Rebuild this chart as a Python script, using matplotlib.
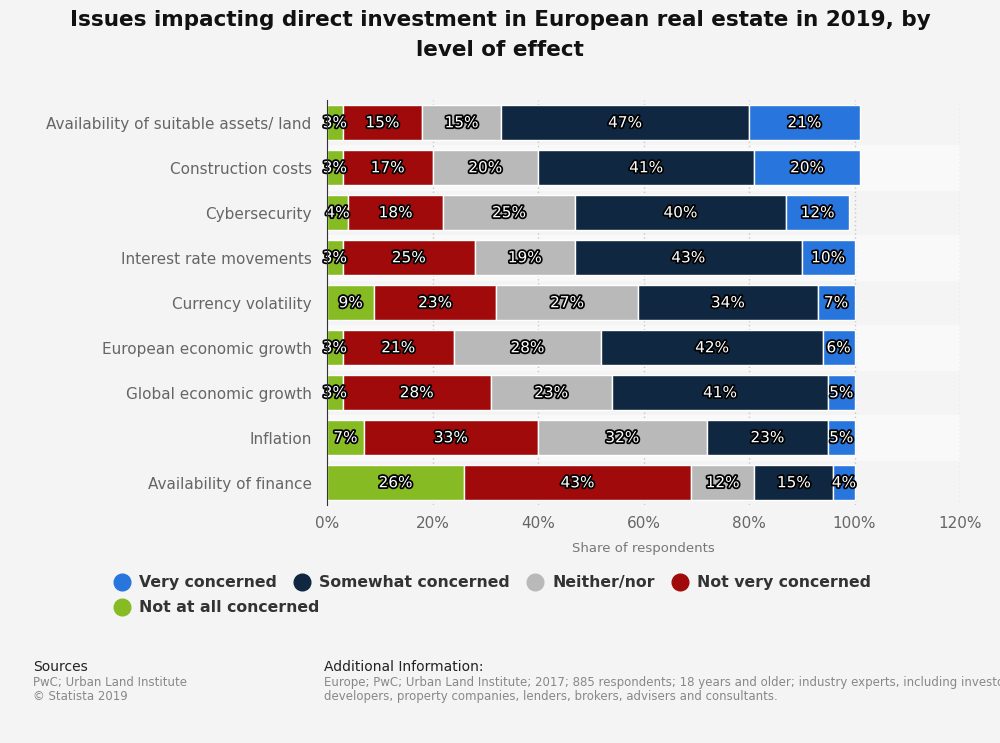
import numpy as np
import matplotlib.pyplot as plt
import matplotlib.patheffects as pe
from matplotlib.lines import Line2D

categories = ["Availability of suitable assets/ land", "Construction costs", "Cybersecurity",
              "Interest rate movements", "Currency volatility", "European economic growth",
              "Global economic growth", "Inflation", "Availability of finance"]
not_at_all = [3, 3, 4, 3, 9, 3, 3, 7, 26]
not_very = [15, 17, 18, 25, 23, 21, 28, 33, 43]
neither = [15, 20, 25, 19, 27, 28, 23, 32, 12]
somewhat = [47, 41, 40, 43, 34, 42, 41, 23, 15]
very = [21, 20, 12, 10, 7, 6, 5, 5, 4]

series = [("Not at all concerned", not_at_all, "#86bb24"),
          ("Not very concerned", not_very, "#a10a0a"),
          ("Neither/nor", neither, "#b9b9b9"),
          ("Somewhat concerned", somewhat, "#0f2740"),
          ("Very concerned", very, "#2876dd")]

fig = plt.figure(figsize=(10, 7.43), dpi=100, facecolor="#f4f4f4")
ax = fig.add_axes([0.327, 0.32, 0.633, 0.545], facecolor="#f4f4f4")

y = np.arange(len(categories))
for i in y:
    if i % 2 == 1:
        ax.axhspan(i - 0.5, i + 0.5, color="#f9f9f9", zorder=0)

left = np.zeros(len(categories))
for name, vals, col in series:
    vals = np.array(vals, dtype=float)
    ax.barh(y, vals, left=left, height=0.78, color=col, edgecolor="white", linewidth=1, zorder=3)
    for yi, l, v in zip(y, left, vals):
        ax.text(l + v / 2, yi, f"{int(v)}%", ha="center", va="center", color="white",
                fontsize=11, zorder=4,
                path_effects=[pe.withStroke(linewidth=2.5, foreground="black")])
    left += vals

ax.set_xlim(0, 120)
ax.set_ylim(len(categories) - 0.5, -0.5)
ax.set_yticks(y)
ax.set_yticklabels(categories, fontsize=11, color="#666666")
ax.set_xticks(np.arange(0, 121, 20))
ax.set_xticklabels([f"{t}%" for t in range(0, 121, 20)], fontsize=11, color="#666666")
ax.tick_params(axis="y", length=0, pad=11)
ax.tick_params(axis="x", length=0, pad=8)
ax.grid(axis="x", linestyle=(0, (1, 2)), color="#c8c8c8", linewidth=1, zorder=1)
for s in ["top", "right", "bottom"]:
    ax.spines[s].set_visible(False)
ax.spines["left"].set_color("#333333")
ax.spines["left"].set_zorder(5)
ax.set_xlabel("Share of respondents", fontsize=9.5, color="#777777", labelpad=8)

fig.text(0.5, 0.987, "Issues impacting direct investment in European real estate in 2019, by\nlevel of effect",
         ha="center", va="top", fontsize=15.5, fontweight="bold", color="#111111", linespacing=1.65)

handles = [Line2D([], [], marker="o", linestyle="", markersize=12, color=c) for _, _, c in series[::-1]]
labels = [n for n, _, _ in series[::-1]]
leg = fig.legend(handles[:4], labels[:4], loc="upper left", bbox_to_anchor=(0.092, 0.245), ncol=4,
                 frameon=False, handletextpad=0.1, columnspacing=0.6, prop={"weight": "bold", "size": 11.3})
for t in leg.get_texts():
    t.set_color("#333333")
leg2 = fig.legend(handles[4:], labels[4:], loc="upper left", bbox_to_anchor=(0.092, 0.211), ncol=1,
                  frameon=False, handletextpad=0.1, prop={"weight": "bold", "size": 11.3})
for t in leg2.get_texts():
    t.set_color("#333333")

fig.text(0.033, 0.097, "Sources", fontsize=10, color="#222222")
fig.text(0.033, 0.077, "PwC; Urban Land Institute", fontsize=8.5, color="#888888")
fig.text(0.033, 0.058, "© Statista 2019", fontsize=8.5, color="#888888")
fig.text(0.324, 0.097, "Additional Information:", fontsize=10, color="#222222")
fig.text(0.324, 0.077, "Europe; PwC; Urban Land Institute; 2017; 885 respondents; 18 years and older; industry experts, including investors, fund managers,",
         fontsize=8.5, color="#888888")
fig.text(0.324, 0.058, "developers, property companies, lenders, brokers, advisers and consultants.",
         fontsize=8.5, color="#888888")

fig.savefig("out.png", dpi=100, facecolor=fig.get_facecolor())
